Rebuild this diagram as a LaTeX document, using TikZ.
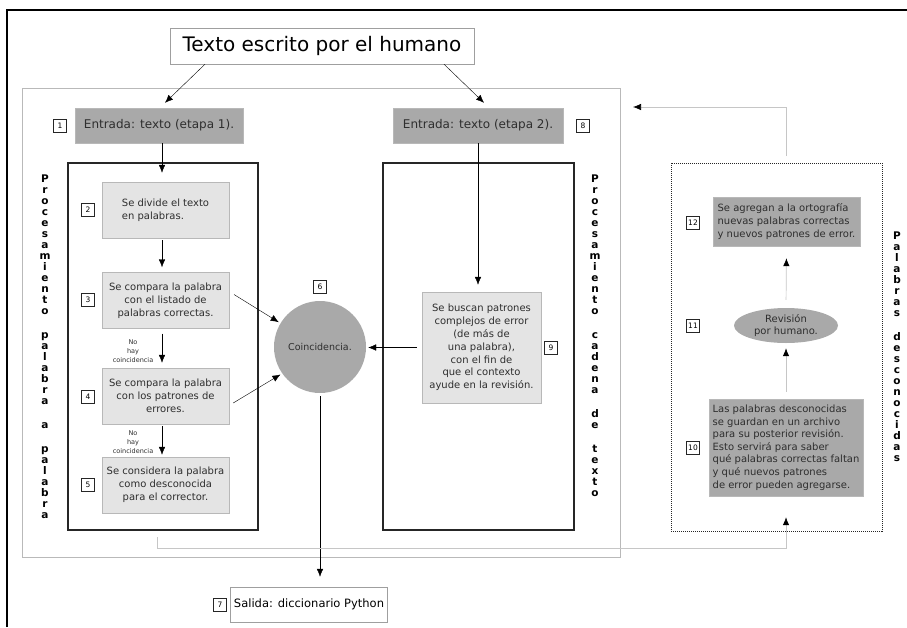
\documentclass[tikz,border=0pt]{standalone}
\usepackage{fontspec}
\setmainfont{DejaVu Sans}
\usetikzlibrary{arrows.meta,shapes.geometric}

\definecolor{pasogris}{HTML}{E4E4E4}
\definecolor{medgris}{HTML}{A9A9A9}
\definecolor{bordegris}{HTML}{B8B8B8}
\definecolor{tinta}{HTML}{2E2E2E}

\tikzset{
  numbox/.style={draw=black!85, line width=1pt, inner sep=0pt, minimum size=12.5pt, font=\fontsize{7.5}{8}\selectfont},
  pasobox/.style={draw=bordegris, fill=pasogris, text=tinta, align=center, minimum width=127pt, minimum height=56pt, inner sep=2pt, font=\fontsize{10}{12.8}\selectfont},
  entrybox/.style={draw=bordegris, fill=medgris, text=tinta, minimum height=35pt, font=\fontsize{12}{14}\selectfont},
  darkbox/.style={draw=bordegris, fill=medgris, text=tinta, align=left, inner sep=0pt, font=\fontsize{10}{12.6}\selectfont},
  lane/.style={draw=black!85, line width=1.4pt},
  vlabel/.style={align=center, font=\bfseries\fontsize{10.5}{11}\selectfont},
  flow/.style={-{Latex[length=8pt,width=6.5pt]}},
  retro/.style={draw=gray!45, line width=0.7pt, -{Latex[length=8pt,width=6.5pt,color=black]}},
  nohay/.style={align=center, text=tinta, font=\fontsize{6.5}{9}\selectfont},
}

\begin{document}
\begin{tikzpicture}[x=1pt,y=-1pt]
\useasboundingbox (0,0) rectangle (907,627);
\draw[line width=1.5pt] (7,627) -- (7,10) -- (907,10);
\draw[gray!55, line width=0.8pt] (22,88) rectangle (620,557);
\draw[lane] (68,163) rectangle (258,530);
\draw[lane] (383,163) rectangle (574,530);
\draw[black!85, line width=1pt, densely dotted] (671,163) rectangle (882,531);

\node[draw=gray!75, minimum width=304pt, minimum height=36pt, font=\fontsize{20}{24}\selectfont] (titulo) at (322,46) {Texto escrito por el humano};
\node[entrybox, minimum width=168pt] (entrada1) at (159,125.5) {Entrada: texto (etapa 1).};
\node[entrybox, minimum width=170pt] (entrada2) at (478,125.5) {Entrada: texto (etapa 2).};

\node[pasobox, align=left] (paso2) at (165.5,210) {Se divide el texto\\en palabras.};
\node[pasobox] (paso3) at (165.5,300.5) {Se compara la palabra\\con el listado de\\palabras correctas.};
\node[pasobox] (paso4) at (165.5,396) {Se compara la palabra\\con los patrones de\\errores.};
\node[pasobox] (paso5) at (165.5,485) {Se considera la palabra\\como desconocida\\para el corrector.};
\node[circle, fill=medgris, minimum size=92pt, inner sep=0pt, text=tinta, font=\fontsize{9.5}{11}\selectfont] (coinc) at (320,347) {Coincidencia.};
\node[pasobox, minimum width=119pt, minimum height=111pt] (paso9) at (481.5,347.5) {Se buscan patrones\\complejos de error\\(de más de\\una palabra),\\con el fin de\\que el contexto\\ayude en la revisión.};
\node[draw=gray!75, minimum width=154pt, minimum height=35pt, font=\fontsize{11.5}{13}\selectfont] (salida) at (309,604.5) {Salida: diccionario Python};

\node[darkbox, minimum width=147pt, minimum height=49pt] (paso12) at (786.5,221.5) {Se agregan a la ortografía\\nuevas palabras correctas\\y nuevos patrones de error.};
\node[ellipse, fill=medgris, minimum width=104pt, minimum height=35pt, inner sep=0pt, align=center, text=tinta, font=\fontsize{10}{12.6}\selectfont] (revision) at (786,325.5) {Revisión\\por humano.};
\node[darkbox, minimum width=154pt, minimum height=97pt] (paso10) at (786,447.5) {Las palabras desconocidas\\se guardan en un archivo\\para su posterior revisión.\\Esto servirá para saber\\qué palabras correctas faltan\\y qué nuevos patrones\\de error pueden agregarse.};

\node[nohay] (nohay1) at (133,351) {No\\hay\\coincidencia};
\node[nohay] (nohay2) at (133,442) {No\\hay\\coincidencia};

\node[vlabel] (lblpalabra) at (45,347) {P\\r\\o\\c\\e\\s\\a\\m\\i\\e\\n\\t\\o\\[13pt]p\\a\\l\\a\\b\\r\\a\\[13pt]a\\[13pt]p\\a\\l\\a\\b\\r\\a};
\node[vlabel] (lblcadena) at (595,336) {P\\r\\o\\c\\e\\s\\a\\m\\i\\e\\n\\t\\o\\[13pt]c\\a\\d\\e\\n\\a\\[13pt]d\\e\\[13pt]t\\e\\x\\t\\o};
\node[vlabel] (lbldesc) at (897,346.5) {P\\a\\l\\a\\b\\r\\a\\s\\[13pt]d\\e\\s\\c\\o\\n\\o\\c\\i\\d\\a\\s};

\foreach \k/\x/\y in {1/60/126,2/88/210,3/88/300,4/88/397,5/88/485,6/320/287,7/220/605,8/583/126,9/551/348,10/693/448,11/693/326,12/693/223}
  \node[numbox] (num\k) at (\x,\y) {\k};

\draw[flow] ([xshift=-117pt]titulo.south) -- ([xshift=6pt,yshift=5pt]entrada1.north);
\draw[flow] ([xshift=122pt]titulo.south) -- ([xshift=6pt,yshift=5pt]entrada2.north);
\draw[flow, shorten >=9pt] ([xshift=3pt]entrada1.south) -- ([xshift=-3.5pt]paso2.north);
\draw[flow, shorten <=2pt, shorten >=5pt] ([xshift=-3.5pt]paso2.south) -- ([xshift=-3.5pt]paso3.north);
\draw[flow, shorten <=5pt, shorten >=5pt] ([xshift=-3.5pt]paso3.south) -- ([xshift=-3.5pt]paso4.north);
\draw[flow, shorten <=2pt, shorten >=2pt] ([xshift=-3.5pt]paso4.south) -- ([xshift=-3.5pt]paso5.north);
\draw[flow, shorten <=1pt, shorten >=2pt] ([xshift=4pt,yshift=6.5pt]paso3.east) -- (coinc.149);
\draw[flow, shorten >=2pt] ([xshift=4pt,yshift=-7pt]paso4.east) -- (coinc.215);
\draw[flow, shorten <=5pt, shorten >=2pt] (paso9.west) -- (paso9.west -| coinc.east);
\draw[flow, shorten >=7pt] (entrada2.south) -- (entrada2.south |- paso9.north);
\draw[flow, shorten <=3pt, shorten >=10pt] (coinc.south) -- (coinc.south |- salida.north);

\draw[retro, shorten <=8pt, shorten >=12pt] (revision.north) -- (paso12.south);
\draw[retro, shorten <=7pt, shorten >=5pt] (paso10.north) -- (revision.south);
\coordinate (bucle) at (157,537);
\draw[retro, shorten >=21pt] (bucle) -- ++(0,11) -| (paso10.south);
\coordinate (arriba) at (786,156);
\coordinate (marco) at (633,107);
\draw[retro] (arriba) |- (marco);
\end{tikzpicture}
\end{document}
